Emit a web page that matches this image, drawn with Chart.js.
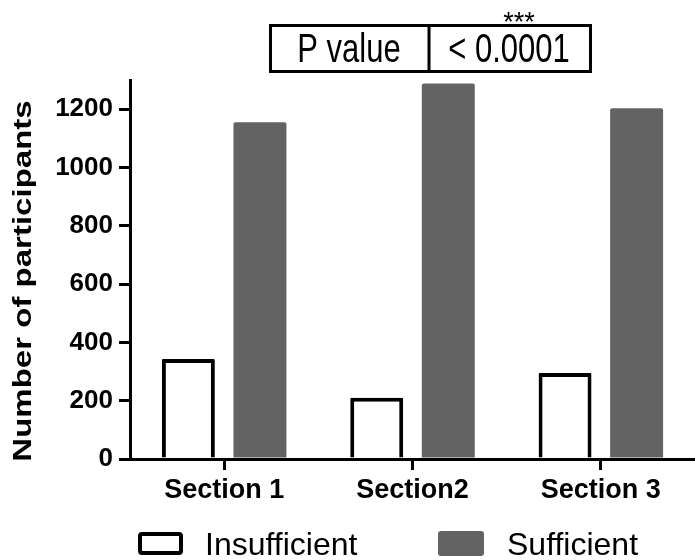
<!DOCTYPE html>
<html>
<head>
<meta charset="utf-8">
<script src="https://cdn.jsdelivr.net/npm/chart.js@4"></script>
<style>
  html, body { margin: 0; padding: 0; background: #fff; }
  #wrap { width: 695px; height: 560px; }
</style>
</head>
<body>
<div id="wrap"><canvas id="myChart" width="695" height="560"></canvas></div>
<script>
const categories = ['Section 1', 'Section2', 'Section 3'];
const insufficient = [343, 210, 295];
const sufficient = [1155, 1288, 1203];
const seriesNames = ['Insufficient', 'Sufficient'];
const yMax = 1300;
const yStep = 200;
const pLabel = 'P value';
const pText = '< 0.0001';
const stars = '***';

const FONT = '"Liberation Sans", Arial, Helvetica, sans-serif';
const GREY = '#636363';

// y title, legend and the p value box, drawn over the chart
const extras = {
  id: 'extras',
  afterDraw: (chart) => {
    const ctx = chart.ctx;
    ctx.save();
    ctx.fillStyle = '#000';
    ctx.strokeStyle = '#000';

    // axis title (stretched along its length like the original)
    ctx.save();
    ctx.translate(24, 281);
    ctx.rotate(-Math.PI / 2);
    ctx.scale(1.27, 1);
    ctx.font = 'bold 26px ' + FONT;
    ctx.textAlign = 'center';
    ctx.textBaseline = 'middle';
    ctx.fillText('Number of participants', 0, 0);
    ctx.restore();

    // p value box
    ctx.lineWidth = 3;
    ctx.strokeRect(270.5, 25.5, 320, 46);
    ctx.beginPath();
    ctx.moveTo(429, 25);
    ctx.lineTo(429, 72);
    ctx.stroke();
    const cells = [[pLabel, 349], [pText, 509]];
    cells.forEach(([t, cx]) => {
      ctx.save();
      ctx.translate(cx, 48);
      ctx.scale(1, 1.3);
      ctx.font = '31px ' + FONT;
      ctx.textAlign = 'center';
      ctx.textBaseline = 'alphabetic';
      ctx.fillText(t, 0, 11);
      ctx.restore();
    });
    ctx.font = '27px ' + FONT;
    ctx.textAlign = 'center';
    ctx.textBaseline = 'alphabetic';
    ctx.fillText(stars, 519, 31);

    // legend
    ctx.lineWidth = 4;
    ctx.fillStyle = '#fff';
    ctx.beginPath();
    ctx.roundRect(140, 534, 41, 19, 2);
    ctx.fill();
    ctx.stroke();
    ctx.fillStyle = GREY;
    ctx.beginPath();
    ctx.roundRect(438, 531, 46, 25, 3);
    ctx.fill();
    ctx.fillStyle = '#000';
    ctx.font = '32px ' + FONT;
    ctx.textAlign = 'left';
    ctx.fillText(seriesNames[0], 205, 555);
    ctx.fillText(seriesNames[1], 507, 555);

    ctx.restore();
  }
};

const data = {
  labels: categories,
  datasets: [{
    label: seriesNames[0],
    data: insufficient,
    backgroundColor: '#fff',
    borderColor: '#000',
    borderWidth: 4,
    borderRadius: 1,
  }, {
    label: seriesNames[1],
    data: sufficient,
    backgroundColor: GREY,
    borderWidth: 0,
    borderRadius: 2,
  }]
};

new Chart(document.getElementById('myChart'), {
  type: 'bar',
  data: data,
  options: {
    responsive: false,
    animation: false,
    categoryPercentage: 0.76,
    barPercentage: 0.74,
    layout: { padding: { left: 0, right: 0, top: 80, bottom: 51 } },
    plugins: {
      legend: { display: false },
      tooltip: { enabled: false },
    },
    scales: {
      x: {
        afterFit: (scale) => { scale.height = 50; },
        grid: {
          offset: false,
          drawOnChartArea: false,
          drawTicks: true,
          tickLength: 11,
          color: '#000',
          lineWidth: 3,
        },
        border: { display: true, color: '#000', width: 3 },
        ticks: {
          color: '#000',
          padding: 4,
          maxRotation: 0,
          font: { family: FONT, size: 27, weight: 'bold' },
        },
      },
      y: {
        min: 0,
        max: yMax,
        afterFit: (scale) => { scale.width = 130; },
        afterBuildTicks: (scale) => {
          scale.ticks = scale.ticks.filter(t => t.value % yStep === 0);
        },
        grid: {
          drawOnChartArea: false,
          drawTicks: true,
          tickLength: 11,
          color: '#000',
          lineWidth: 3,
        },
        border: { display: true, color: '#000', width: 3 },
        ticks: {
          stepSize: yStep,
          color: '#000',
          padding: 6,
          callback: (v) => String(v),
          font: { family: FONT, size: 26, weight: 'bold' },
        },
      },
    },
  },
  plugins: [extras],
});
</script>
</body>
</html>
